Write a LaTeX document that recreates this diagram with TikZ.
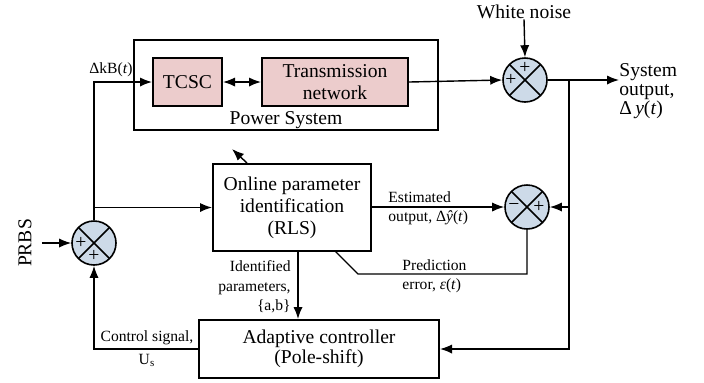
\documentclass[tikz,border=0pt]{standalone}
\usepackage{fontspec}
\setmainfont{Liberation Serif}
\usetikzlibrary{
    arrows.meta,
    positioning
}
\definecolor{blockpink}{RGB}{236,204,204}
\definecolor{sumblue}{RGB}{205,218,232}
\newcommand{\bigfont}{\fontsize{9.8}{11}\selectfont}
\newcommand{\smallfont}{\fontsize{7.8}{9.8}\selectfont}
\tikzset {
    block/.style = {draw, line width = 1pt, align = center, font = \bigfont, inner sep = 0pt},
    pink block/.style = {block, fill = blockpink},
    sum/.style = {
        circle, draw, line width = 0.8pt, fill = sumblue,
        minimum size = 22pt, inner sep = 0pt,
        path picture = {
            \draw [line width = 0.8pt]
            (path picture bounding box.north west) -- (path picture bounding box.south east)
            (path picture bounding box.north east) -- (path picture bounding box.south west);
        }
    },
    sign/.style = {font = \bigfont, inner sep = 0pt},
    wire/.style = {line width = 0.7pt},
    signal/.style = {wire, -{Latex[length = 6pt, width = 4.6pt]}},
    both signal/.style = {wire, {Latex[length = 6pt, width = 4.6pt]}-{Latex[length = 6pt, width = 4.6pt]}},
    small/.style = {font = \smallfont, inner sep = 0pt, align = left},
    big/.style = {font = \bigfont, inner sep = 0pt}
}
\begin{document}
\begin{tikzpicture}[x = 0.5pt, y = -0.5pt]
    \useasboundingbox (0, 0) rectangle (704, 382);
    % power system
    \node (ps) [block, minimum width = 152pt, minimum height = 45pt] at (286, 85) {};
    \node (pslabel) [big] at (286, 120) {Power System};
    \node (tcsc) [pink block, minimum width = 34.5pt, minimum height = 24pt] at (187.5, 82) {TCSC};
    \node (tn) [pink block, minimum width = 73pt, minimum height = 24pt] at (335, 82) {Transmission\\network};
    \draw [both signal] (tcsc) -- (tn);
    % noise and output
    \node (s1) [sum] at (525, 80) {};
    \node (s1a) [sign] at ([yshift = 6pt]s1.center) {+};
    \node (s1b) [sign] at ([xshift = -7pt]s1.center) {+};
    \node (noise) [big] at (524, 12) {White noise};
    \draw [signal] (noise.south) -- (s1.north);
    \draw [signal] (tn.east) -- (s1.west);
    \node (out) [big, align = left, anchor = west, font = \fontsize{9.8}{9.4}\selectfont] at (619, 91) {System\\output,\\Δ\,\textit{y}(\textit{t})};
    \draw [signal] (s1.east) -- (s1.east -| out.west);
    \coordinate (br) at (569, 80);
    % identification
    \node (rls) [block, minimum width = 79pt, minimum height = 43.5pt] at (292, 207.5) {Online parameter\\identification\\(RLS)};
    \node (s2) [sum] at (527, 207) {};
    \node (s2a) [sign] at ([xshift = -6.5pt]s2.center) {−};
    \node (s2b) [sign] at ([xshift = 6pt]s2.center) {+};
    \draw [signal] (rls.east |- s2.west) -- (s2.west);
    \draw [signal] (br |- s2.east) -- (s2.east);
    \node (est) [small, anchor = south west] at (388, 203) {Estimated};
    \node (estout) [small, anchor = north west] at (388, 210) {output, Δ\textit{ŷ}(\textit{t})};
    \coordinate (pe) at (358, 274);
    \coordinate (rlspe) at (335, 251);
    \draw [wire] (s2.south) |- (pe) -- (rlspe);
    \node (pred) [small, anchor = south west] at (402, 271) {Prediction};
    \node (prederr) [small, anchor = north west] at (402, 278) {error, \textit{ε}(\textit{t})};
    \coordinate (upd) at (232, 149);
    \draw [signal] ([xshift = -22.5pt]rls.north) -- (upd);
    % controller
    \node (ctrl) [block, minimum width = 120pt, minimum height = 29pt, font = \fontsize{9.8}{10}\selectfont] at (319, 349) {Adaptive controller\\(Pole-shift)};
    \draw [signal] (br) |- (ctrl.east);
    \draw [signal] ([xshift = 3pt]rls.south) -- ([xshift = 3pt]rls.south |- ctrl.north);
    \node (idp) [small, align = right, anchor = east] at (291, 287) {Identified\\parameters,\\\{a,b\}};
    % excitation
    \node (s3) [sum] at (94, 243) {};
    \node (s3a) [sign] at ([xshift = -6.5pt]s3.center) {+};
    \node (s3b) [sign] at ([yshift = -6.5pt]s3.center) {+};
    \node (prbs) [big, rotate = 90, inner sep = 5pt] at (25, 243) {PRBS};
    \draw [signal] (prbs.south) -- (s3.west);
    \draw [signal] (ctrl.west) -| (s3.south);
    \node (cs) [small, anchor = south] at (147, 345) {Control signal,};
    \node (us) [small, anchor = north] at (147, 354) {U\textsubscript{s}};
    \draw [signal] (s3.north) |- (tcsc.west);
    \draw [signal] (s3.north |- rls.west) -- (rls.west);
    \node (dkb) [small, anchor = south west] at (89, 77) {ΔkB(\textit{t})};
\end{tikzpicture}
\end{document}
